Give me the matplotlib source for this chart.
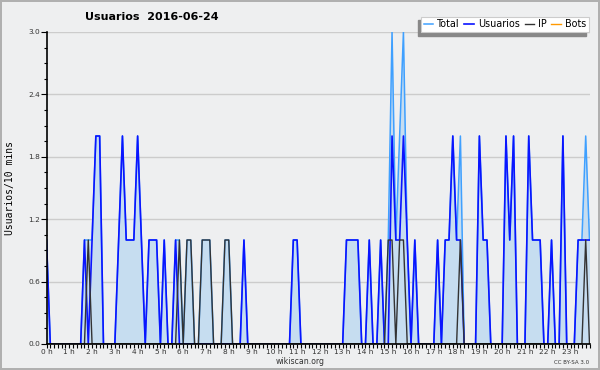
# daily user activity chart (10 minute steps)
import matplotlib
matplotlib.use("Agg")
import matplotlib.pyplot as plt
import numpy as np
from matplotlib.patches import Rectangle
from matplotlib.ticker import MultipleLocator

# one row per hour, six 10-minute values each
total = [
    1, 0, 0, 0, 0, 0,
    0, 0, 0, 0, 1, 1,
    1, 2, 2, 0, 0, 0,
    0, 1, 2, 1, 1, 1,
    2, 1, 0, 1, 1, 1,
    0, 1, 0, 0, 1, 1,
    0, 1, 1, 0, 0, 1,
    1, 1, 0, 0, 0, 1,
    1, 0, 0, 0, 1, 0,
    0, 0, 0, 0, 0, 0,
    0, 0, 0, 0, 0, 1,
    1, 0, 0, 0, 0, 0,
    0, 0, 0, 0, 0, 0,
    0, 1, 1, 1, 1, 0,
    0, 1, 0, 0, 1, 0,
    1, 3, 1, 2, 3, 1,
    0, 1, 0, 0, 0, 0,
    0, 1, 0, 1, 1, 2,
    1, 2, 0, 0, 0, 0,
    2, 1, 1, 0, 0, 0,
    0, 2, 1, 2, 0, 0,
    0, 2, 1, 1, 1, 0,
    0, 1, 0, 0, 2, 0,
    0, 0, 1, 1, 2, 1,
]
usuarios = [
    1, 0, 0, 0, 0, 0,
    0, 0, 0, 0, 1, 0,
    1, 2, 2, 0, 0, 0,
    0, 1, 2, 1, 1, 1,
    2, 1, 0, 1, 1, 1,
    0, 1, 0, 0, 1, 0,
    0, 0, 0, 0, 0, 0,
    0, 0, 0, 0, 0, 0,
    0, 0, 0, 0, 1, 0,
    0, 0, 0, 0, 0, 0,
    0, 0, 0, 0, 0, 1,
    1, 0, 0, 0, 0, 0,
    0, 0, 0, 0, 0, 0,
    0, 1, 1, 1, 1, 0,
    0, 1, 0, 0, 1, 0,
    0, 2, 1, 1, 2, 1,
    0, 1, 0, 0, 0, 0,
    0, 1, 0, 1, 1, 2,
    1, 1, 0, 0, 0, 0,
    2, 1, 1, 0, 0, 0,
    0, 2, 1, 2, 0, 0,
    0, 2, 1, 1, 1, 0,
    0, 1, 0, 0, 2, 0,
    0, 0, 1, 1, 1, 1,
]
ip = [
    0, 0, 0, 0, 0, 0,
    0, 0, 0, 0, 0, 1,
    0, 0, 0, 0, 0, 0,
    0, 0, 0, 0, 0, 0,
    0, 0, 0, 0, 0, 0,
    0, 0, 0, 0, 0, 1,
    0, 1, 1, 0, 0, 1,
    1, 1, 0, 0, 0, 1,
    1, 0, 0, 0, 0, 0,
    0, 0, 0, 0, 0, 0,
    0, 0, 0, 0, 0, 0,
    0, 0, 0, 0, 0, 0,
    0, 0, 0, 0, 0, 0,
    0, 0, 0, 0, 0, 0,
    0, 0, 0, 0, 0, 0,
    1, 1, 0, 1, 1, 0,
    0, 0, 0, 0, 0, 0,
    0, 0, 0, 0, 0, 0,
    0, 1, 0, 0, 0, 0,
    0, 0, 0, 0, 0, 0,
    0, 0, 0, 0, 0, 0,
    0, 0, 0, 0, 0, 0,
    0, 0, 0, 0, 0, 0,
    0, 0, 0, 0, 1, 0,
]
bots = [0] * 144
hour_labels = ["%d h" % h for h in range(24)]

bg = "#eeeff0"
x = np.arange(len(total)) / 6.0

fig = plt.figure(figsize=(6, 3.7), dpi=100, facecolor=bg)
fig.patch.set_edgecolor("#b0b0b0")
fig.patch.set_linewidth(1.5)
ax = fig.add_axes([46.5 / 600, 26 / 370, 543 / 600, 312 / 370])
ax.set_facecolor(bg)

ax.fill_between(x, total, color="#c6ddf0", lw=0, zorder=1)
ax.plot(x, bots, color="#ff9900", lw=1.0, label="Bots", zorder=1.5)
ax.plot(x, total, color="#3fa0ff", lw=1.1, label="Total", zorder=2)
ax.plot(x, usuarios, color="#0a14ff", lw=1.2, label="Usuarios", zorder=2.2)
ax.plot(x, ip, color="#333333", lw=1.0, label="IP", zorder=2.4)

ax.set_xlim(0, x[-1])
ax.set_ylim(0, 3.0)
ax.set_yticks(np.arange(0, 3.01, 0.6))
ax.set_yticklabels(["%.1f" % v for v in np.arange(0, 3.01, 0.6)])
ax.yaxis.set_minor_locator(MultipleLocator(0.15))
ax.set_xticks(np.arange(24))
ax.set_xticklabels(hour_labels)
ax.xaxis.set_minor_locator(MultipleLocator(1 / 6.0))
ax.tick_params(axis="both", which="both", direction="out", width=0.8,
               colors="black", labelcolor="#333333", labelsize=5.3, pad=0.5)
ax.tick_params(axis="y", which="major", length=4)
ax.tick_params(axis="y", which="minor", length=2.5)
ax.tick_params(axis="x", which="both", length=3)
ax.grid(axis="y", color="#cccccc", lw=1.0)
ax.set_axisbelow(True)
for s in ["top", "right"]:
    ax.spines[s].set_visible(False)
for s in ["left", "bottom"]:
    ax.spines[s].set_linewidth(1.2)

fig.text(85 / 600, 1 - 17 / 370, "Usuarios  2016-06-24", fontsize=8.0,
         fontweight="bold", va="center", ha="left")
fig.text(10 / 600, 1 - 188 / 370, "Usuarios/10 mins", rotation=90,
         family="DejaVu Sans Mono", fontsize=7, va="center", ha="center")
fig.text(300 / 600, 1 - 362 / 370, "wikiscan.org", fontsize=5.6,
         color="#333333", ha="center", va="center")
fig.text(589 / 600, 1 - 362 / 370, "CC BY-SA 3.0", fontsize=4.0,
         color="#333333", ha="right", va="center")

h, l = ax.get_legend_handles_labels()
order = [1, 2, 3, 0]
leg = fig.legend([h[i] for i in order], [l[i] for i in order], ncol=4,
                 loc="upper right", bbox_to_anchor=(589 / 600, 1 - 16.5 / 370),
                 fontsize=6.9, frameon=True, fancybox=False, framealpha=1,
                 edgecolor="#cccccc", handlelength=1.0, handletextpad=0.4,
                 columnspacing=0.5, borderpad=0.3, borderaxespad=0)
leg.get_frame().set_linewidth(0.8)

# grey drop shadow down-left of the legend box
fig.canvas.draw()
bb = leg.get_window_extent()
fig.patches.append(Rectangle(((bb.x0 - 3) / 600, (bb.y0 - 3.5) / 370),
                             bb.width / 600, bb.height / 370,
                             transform=fig.transFigure, color="#888888",
                             zorder=leg.get_zorder() - 1))

fig.savefig("out.png", dpi=100, facecolor=bg)
